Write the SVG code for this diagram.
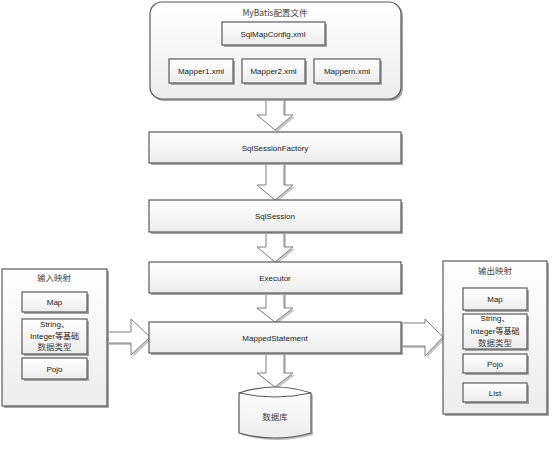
<svg xmlns="http://www.w3.org/2000/svg" width="554" height="457" viewBox="0 0 554 457">
<defs>
<linearGradient id="g" x1="0" y1="0" x2="0" y2="1">
<stop offset="0" stop-color="#ffffff"/>
<stop offset="1" stop-color="#ececec"/>
</linearGradient>
<style>
.box{fill:url(#g);stroke:#5a5a5a;stroke-width:1.2}
.sh{fill:#a6a6a6}
.arr{fill:#ffffff;stroke:#7f7f7f;stroke-width:1}
.ash{fill:#c8c8c8}
text{font-family:"Liberation Sans","Noto Sans CJK SC",sans-serif;font-size:8px;fill:#222;text-anchor:middle}
.cn{font-family:"Noto Sans CJK SC",sans-serif;font-size:8.5px;fill:#444}
</style>
</defs>
<rect width="554" height="457" fill="#ffffff"/>

<g id="connectors">
<polygon class="ash" points="268,101 286,101 286,117 295,117 277,132 259,117 268,117"/>
<polygon class="arr" points="266,99 284,99 284,115 293,115 275,130 257,115 266,115"/>
<polygon class="ash" points="268,165 286,165 286,187 295,187 277,202 259,187 268,187"/>
<polygon class="arr" points="266,163 284,163 284,185 293,185 275,200 257,185 266,185"/>
<polygon class="ash" points="268,234 286,234 286,249 295,249 277,264 259,249 268,249"/>
<polygon class="arr" points="266,232 284,232 284,247 293,247 275,262 257,247 266,247"/>
<polygon class="ash" points="268,295 286,295 286,310 295,310 277,324 259,310 268,310"/>
<polygon class="arr" points="266,293 284,293 284,308 293,308 275,322 257,308 266,308"/>
<polygon class="ash" points="268,355 286,355 286,375 295,375 277,389 259,375 268,375"/>
<polygon class="arr" points="266,353 284,353 284,373 293,373 275,387 257,373 266,373"/>
<polygon class="ash" points="109,334 133,334 133,321 152,339 133,357 133,345 109,345"/>
<polygon class="arr" points="107,332 131,332 131,319 150,337 131,355 131,343 107,343"/>
<polygon class="ash" points="403,325 427,325 427,321 445,339 427,358 427,348 403,348"/>
<polygon class="arr" points="401,323 425,323 425,319 443,337 425,356 425,346 401,346"/>
</g>

<g id="mybatis-config">
<rect class="sh" x="152" y="4" width="251" height="97" rx="12"/>
<rect class="box" x="150" y="2" width="251" height="97" rx="12"/>
<text class="cn" x="275" y="16">MyBatis配置文件</text>
</g>
<g id="sqlmapconfig">
<rect class="sh" x="224" y="24" width="103" height="23"/>
<rect class="box" x="222" y="22" width="103" height="23"/>
<text x="273" y="37">SqlMapConfig.xml</text>
</g>
<g id="mapper1">
<rect class="sh" x="171" y="61" width="64" height="24"/>
<rect class="box" x="169" y="59" width="64" height="24"/>
<text x="201" y="74">Mapper1.xml</text>
</g>
<g id="mapper2">
<rect class="sh" x="244" y="61" width="63" height="24"/>
<rect class="box" x="242" y="59" width="63" height="24"/>
<text x="273.5" y="74">Mapper2.xml</text>
</g>
<g id="mappern">
<rect class="sh" x="316" y="61" width="66" height="24"/>
<rect class="box" x="314" y="59" width="66" height="24"/>
<text x="347" y="74">Mappern.xml</text>
</g>

<g id="sqlsessionfactory">
<rect class="sh" x="151" y="134" width="252" height="31"/>
<rect class="box" x="149" y="132" width="252" height="31"/>
<text x="275" y="150.5">SqlSessionFactory</text>
</g>
<g id="sqlsession">
<rect class="sh" x="151" y="202" width="252" height="32"/>
<rect class="box" x="149" y="200" width="252" height="32"/>
<text x="275" y="219">SqlSession</text>
</g>
<g id="executor">
<rect class="sh" x="151" y="264" width="252" height="31"/>
<rect class="box" x="149" y="262" width="252" height="31"/>
<text x="275" y="280.5">Executor</text>
</g>
<g id="mappedstatement">
<rect class="sh" x="151" y="324" width="252" height="31"/>
<rect class="box" x="149" y="322" width="252" height="31"/>
<text x="275" y="340.5">MappedStatement</text>
</g>

<g id="database">
<path d="M241,395 Q277,383 313,395 L313,435 Q277,445 241,435 Z" fill="#bdbdbd"/>
<path class="box" d="M239,393 Q275,381 311,393 L311,433 Q275,443 239,433 Z"/>
<path d="M239,393 Q275,401 311,393" fill="none" stroke="#5a5a5a" stroke-width="1"/>
<text class="cn" x="275" y="420">数据库</text>
</g>

<g id="input-mapping">
<rect class="sh" x="4" y="271" width="105" height="137"/>
<rect class="box" x="2" y="269" width="105" height="137"/>
<text class="cn" x="54" y="281">输入映射</text>
</g>
<g id="in-map">
<rect class="sh" x="24" y="294" width="65" height="20"/>
<rect class="box" x="22" y="292" width="65" height="20"/>
<text x="54.5" y="305">Map</text>
</g>
<g id="in-string">
<rect class="sh" x="24" y="321" width="65" height="35"/>
<rect class="box" x="22" y="319" width="65" height="35"/>
<text x="54.5" y="327">String、</text>
<text x="54.5" y="339">Integer等基础</text>
<text class="cn" x="54.5" y="350">数据类型</text>
</g>
<g id="in-pojo">
<rect class="sh" x="24" y="360" width="65" height="21"/>
<rect class="box" x="22" y="358" width="65" height="21"/>
<text x="54.5" y="371.5">Pojo</text>
</g>

<g id="output-mapping">
<rect class="sh" x="445" y="263" width="104" height="153"/>
<rect class="box" x="443" y="261" width="104" height="153"/>
<text class="cn" x="495" y="274">输出映射</text>
</g>
<g id="out-map">
<rect class="sh" x="465" y="290" width="64" height="22"/>
<rect class="box" x="463" y="288" width="64" height="22"/>
<text x="495" y="302">Map</text>
</g>
<g id="out-string">
<rect class="sh" x="465" y="316" width="64" height="35"/>
<rect class="box" x="463" y="314" width="64" height="35"/>
<text x="495" y="321">String、</text>
<text x="495" y="334">Integer等基础</text>
<text class="cn" x="495" y="346">数据类型</text>
</g>
<g id="out-pojo">
<rect class="sh" x="465" y="356" width="64" height="19"/>
<rect class="box" x="463" y="354" width="64" height="19"/>
<text x="495" y="366.5">Pojo</text>
</g>
<g id="out-list">
<rect class="sh" x="465" y="385" width="64" height="19"/>
<rect class="box" x="463" y="383" width="64" height="19"/>
<text x="495" y="395.5">List</text>
</g>
</svg>
